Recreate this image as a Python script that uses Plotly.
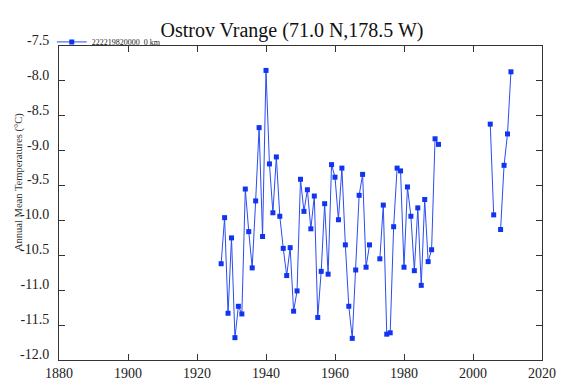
import plotly.graph_objects as go

years = [1927, 1928, 1929, 1930, 1931, 1932, 1933, 1934, 1935, 1936,
         1937, 1938, 1939, 1940, 1941, 1942, 1943, 1944, 1945, 1946,
         1947, 1948, 1949, 1950, 1951, 1952, 1953, 1954, 1955, 1956,
         1957, 1958, 1959, 1960, 1961, 1962, 1963, 1964, 1965, 1966,
         1967, 1968, 1969, 1970, 1971, 1972, 1973, 1974, 1975, 1976,
         1977, 1978, 1979, 1980, 1981, 1982, 1983, 1984, 1985, 1986,
         1987, 1988, 1989, 1990, 1991, 2005, 2006, 2007, 2008, 2009,
         2010, 2011]
temps = [-10.62, -9.96, -11.33, -10.25, -11.68, -11.23, -11.34, -9.55, -10.16, -10.68,
         -9.72, -8.67, -10.23, -7.85, -9.19, -9.89, -9.09, -9.94, -10.40, -10.79,
         -10.39, -11.30, -11.01, -9.41, -9.87, -9.56, -10.12, -9.65, -11.39, -10.73,
         -9.76, -10.77, -9.20, -9.38, -9.99, -9.25, -10.35, -11.23, -11.69, -10.71,
         -9.64, -9.34, -10.67, -10.35, None, None, -10.55, -9.78, -11.63, -11.61,
         -10.09, -9.25, -9.29, -10.67, -9.52, -9.94, -10.72, -9.82, -10.93, -9.70,
         -10.59, -10.42, -8.83, -8.91, None, -8.62, -9.92, None, -10.13, -9.21,
         -8.76, -7.87]

series_name = "222219820000\u00a0\u00a00 km"
title_text = "Ostrov Vrange (71.0 N,178.5 W)"
y_title = "Annual Mean Temperatures (\u00b0C)"
x_ticks = [1880, 1900, 1920, 1940, 1960, 1980, 2000, 2020]
y_ticks = [-7.5, -8.0, -8.5, -9.0, -9.5, -10.0, -10.5, -11.0, -11.5, -12.0]
y_tick_labels = ["-7.5", "-8.0", "-8.5", "-9.0", "-9.5", "-10.0", "-10.5", "-11.0", "-11.5", "-12.0"]

font_family = "Liberation Serif"

fig = go.Figure()
fig.add_trace(go.Scatter(
    x=years, y=temps, name=series_name, mode="lines+markers",
    connectgaps=False,
    line=dict(color="#2a4cf0", width=1),
    marker=dict(symbol="square", size=5, color="#1034f0"),
))

axis_common = dict(
    showline=True, linecolor="#333333", linewidth=1, mirror="ticks",
    ticks="inside", ticklen=6, tickcolor="#333333", tickwidth=1,
    showgrid=False, zeroline=False,
    tickfont=dict(family=font_family, size=14, color="#222222"),
)

fig.update_xaxes(range=[1880, 2020], tickvals=x_ticks, **axis_common)
fig.update_yaxes(range=[-12.0, -7.5], tickvals=y_ticks, ticktext=y_tick_labels,
                 ticklabelstandoff=6, ticklabelshift=-6, **axis_common)

fig.update_layout(
    width=568, height=385,
    margin=dict(l=51, r=34, t=38, b=26),
    paper_bgcolor="white", plot_bgcolor="white",
    font=dict(family=font_family, color="#222222"),
    title=dict(text=title_text, x=0.5, xanchor="center", y=1 - 22 / 385,
               yanchor="middle", font=dict(family=font_family, size=20, color="#111111")),
    showlegend=True,
    legend=dict(x=-0.015, y=1 + 19 / 321, xanchor="left", yanchor="top",
                bgcolor="rgba(0,0,0,0)", borderwidth=0,
                font=dict(family=font_family, size=8, color="#222222"),
                itemwidth=30),
    annotations=[dict(text=y_title, xref="paper", yref="paper",
                      x=(11 - 51) / 483, y=(359 - 177) / 321,
                      xanchor="center", yanchor="middle", textangle=-90,
                      showarrow=False,
                      font=dict(family=font_family, size=10.5, color="#333333"))],
)

fig.write_html("out.html")
